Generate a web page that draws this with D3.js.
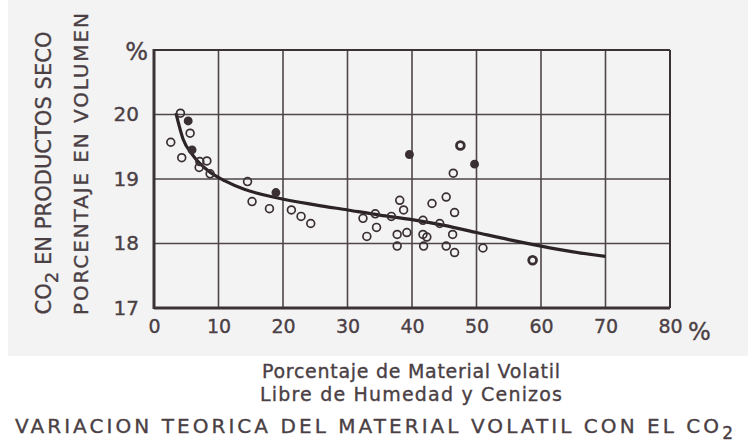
<!DOCTYPE html>
<html>
<head>
<meta charset="utf-8">
<script src="https://cdn.jsdelivr.net/npm/d3@7"></script>
<style>
  body { margin: 0; background: #fff; }
  text { font-family: "DejaVu Sans", Lato, sans-serif; fill: #4a4044; stroke: #4a4044; stroke-width: 0.35px; }
</style>
</head>
<body>
<script>
// data
var xTicks = [0, 10, 20, 30, 40, 50, 60, 70, 80];
var yTicks = [17, 18, 19, 20];

// measured points: volatile matter %, CO2 %
var ptX = [4.1, 5.3, 5.6, 2.6, 5.9, 4.3, 7.1, 8.2, 7.0, 8.7, 14.5, 15.2, 17.9, 18.9,
           21.3, 22.8, 24.3, 32.4, 34.3, 34.5, 33.0, 36.8, 38.1, 38.7, 37.7, 37.7,
           39.2, 41.7, 41.7, 42.3, 41.8, 43.1, 45.3, 44.3, 46.6, 46.3, 45.3, 46.6,
           51.0, 46.4, 39.6, 47.5, 49.7, 58.7];
var ptY = [20.02, 19.9, 19.71, 19.57, 19.45, 19.33, 19.27, 19.28, 19.18, 19.08, 18.96, 18.65, 18.54, 18.79,
           18.52, 18.42, 18.31, 18.39, 18.46, 18.25, 18.11, 18.42, 18.67, 18.52, 18.14, 17.96,
           18.17, 18.36, 18.14, 18.1, 17.96, 18.62, 18.72, 18.31, 18.48, 18.14, 17.96, 17.86,
           17.93, 19.09, 19.38, 19.52, 19.23, 17.74];
// 0 open, 1 filled, 2 heavy ring
var ptKind = [0, 1, 0, 0, 1, 0, 0, 0, 0, 0, 0, 0, 0, 1,
              0, 0, 0, 0, 0, 0, 0, 0, 0, 0, 0, 0,
              0, 0, 0, 0, 0, 0, 0, 0, 0, 0, 0, 0,
              0, 0, 1, 2, 1, 2];

// theoretical curve
var curveX = [3.4, 4.5, 6, 8.5, 11, 14, 19, 25, 30, 35, 40, 45, 50, 55, 60, 65, 70];
var curveY = [20.02, 19.62, 19.37, 19.12, 18.97, 18.84, 18.71, 18.6, 18.52, 18.44, 18.37, 18.28, 18.17, 18.06, 17.96, 17.87, 17.8];

var w = 748, h = 448;
var padL = 154, padR = 670, padT = 50, padB = 308;
var ink = "#3b3236";

var svg = d3.select("body").append("svg")
    .attr("width", w)
    .attr("height", h);

// faint grey of the scanned page
svg.append("rect").attr("x", 8).attr("y", 0).attr("width", w - 8).attr("height", 356)
    .attr("fill", "#f4f3f4");

var x = d3.scaleLinear().domain([0, 80]).range([padL, padR]);
var y = d3.scaleLinear().domain([17, 21]).range([padB, padT]);

// grid
svg.append("g").selectAll("line")
    .data(xTicks.slice(1, -1))
    .enter().append("line")
    .attr("x1", function (d) { return x(d); })
    .attr("x2", function (d) { return x(d); })
    .attr("y1", padT).attr("y2", padB)
    .attr("stroke", "#4e4649").attr("stroke-width", 1.6);

svg.append("g").selectAll("line")
    .data(yTicks.slice(1))
    .enter().append("line")
    .attr("x1", padL).attr("x2", padR)
    .attr("y1", function (d) { return y(d); })
    .attr("y2", function (d) { return y(d); })
    .attr("stroke", "#4e4649").attr("stroke-width", 1.6);

// frame
svg.append("line").attr("x1", padL).attr("x2", padR).attr("y1", padT).attr("y2", padT)
    .attr("stroke", ink).attr("stroke-width", 2);
svg.append("line").attr("x1", padR).attr("x2", padR).attr("y1", padT).attr("y2", padB)
    .attr("stroke", ink).attr("stroke-width", 2);
svg.append("line").attr("x1", padL).attr("x2", padL).attr("y1", padT - 1).attr("y2", padB + 1)
    .attr("stroke", ink).attr("stroke-width", 3);
svg.append("line").attr("x1", padL).attr("x2", padR).attr("y1", padB).attr("y2", padB)
    .attr("stroke", ink).attr("stroke-width", 3);

// tick labels
var xAxis = d3.axisBottom(x).tickValues(xTicks).tickSize(0).tickPadding(12);
var gx = svg.append("g")
    .attr("transform", "translate(0," + padB + ")")
    .call(xAxis);
gx.select(".domain").remove();
gx.selectAll("text").attr("font-size", 19).attr("font-family", "DejaVu Sans").style("fill", "#4a4044");

var yAxis = d3.axisLeft(y).tickValues(yTicks).tickFormat(d3.format("d")).tickSize(0).tickPadding(15);
var gy = svg.append("g")
    .attr("transform", "translate(" + padL + ",0)")
    .call(yAxis);
gy.select(".domain").remove();
gy.selectAll("text").attr("font-size", 20).attr("font-family", "DejaVu Sans").style("fill", "#4a4044");

svg.append("text").attr("x", x(80) + 18).attr("y", padB + 32)
    .attr("font-size", 24).text("%");
svg.append("text").attr("x", padL - 6).attr("y", padT + 10)
    .attr("text-anchor", "end").attr("font-size", 24).text("%");

// curve
var pts = curveX.map(function (d, i) { return [d, curveY[i]]; });
svg.append("path")
    .attr("d", d3.line()
        .x(function (d) { return x(d[0]); })
        .y(function (d) { return y(d[1]); })
        .curve(d3.curveMonotoneX)(pts))
    .attr("fill", "none")
    .attr("stroke", "#2c2327")
    .attr("stroke-width", 3.2);

// points
svg.append("g").selectAll("circle")
    .data(ptX)
    .enter().append("circle")
    .attr("cx", function (d) { return x(d); })
    .attr("cy", function (d, i) { return y(ptY[i]); })
    .attr("r", function (d, i) { return ptKind[i] == 1 ? 3.6 : 3.9; })
    .attr("fill", function (d, i) { return ptKind[i] == 1 ? "#3a3034" : "none"; })
    .attr("stroke", "#3a3034")
    .attr("stroke-width", function (d, i) { return ptKind[i] == 2 ? 2.8 : 1.7; });

// y titles
var t1 = svg.append("text")
    .attr("transform", "translate(51,173) rotate(-90)")
    .attr("text-anchor", "middle")
    .attr("font-size", 21)
    .attr("textLength", 283).attr("lengthAdjust", "spacing");
t1.append("tspan").text("CO");
t1.append("tspan").attr("dy", 7).attr("font-size", 18).text("2");
t1.append("tspan").attr("dy", -7).text(" EN PRODUCTOS SECO");

svg.append("text")
    .attr("transform", "translate(88,164) rotate(-90)")
    .attr("text-anchor", "middle")
    .attr("font-size", 20)
    .attr("textLength", 302).attr("lengthAdjust", "spacing")
    .text("PORCENTAJE EN VOLUMEN");

// x titles
svg.append("text").attr("x", 411).attr("y", 378)
    .attr("text-anchor", "middle").attr("font-size", 19)
    .attr("textLength", 298).attr("lengthAdjust", "spacing")
    .text("Porcentaje de Material Volatil");
svg.append("text").attr("x", 411).attr("y", 401)
    .attr("text-anchor", "middle").attr("font-size", 19)
    .attr("textLength", 302).attr("lengthAdjust", "spacing")
    .text("Libre de Humedad y Cenizos");

var t3 = svg.append("text").attr("x", 15).attr("y", 433)
    .attr("font-size", 20)
    .attr("textLength", 718).attr("lengthAdjust", "spacing");
t3.append("tspan").text("VARIACION TEORICA DEL MATERIAL VOLATIL CON EL CO");
t3.append("tspan").attr("dy", 6).attr("font-size", 17).text("2");
</script>
</body>
</html>
